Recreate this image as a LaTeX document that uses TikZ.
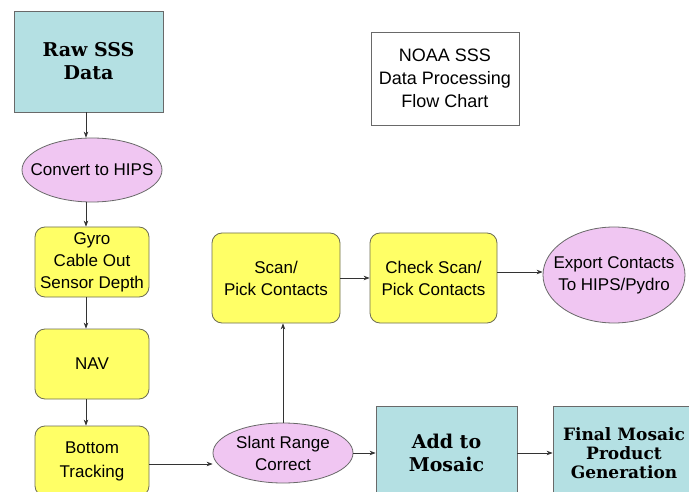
\documentclass[tikz,border=0pt]{standalone}
\usepackage{fontspec}
\setmainfont{Liberation Sans}
\newfontfamily\slabfont{DejaVu Serif}
\usetikzlibrary{shapes.geometric,arrows.meta}
\definecolor{cyanfill}{RGB}{180,224,227}
\definecolor{yelfill}{RGB}{255,255,102}
\definecolor{pinkfill}{RGB}{240,198,242}
\definecolor{edgegray}{RGB}{105,105,105}
\tikzset{
  every node/.style={align=center, inner sep=0pt, font=\fontsize{17}{22}\selectfont},
  cyanbox/.style={draw=edgegray, line width=0.8pt, fill=cyanfill, rectangle,
    font=\slabfont\bfseries\fontsize{19}{23}\selectfont},
  yelbox/.style={draw=edgegray!80!olive, line width=0.8pt, fill=yelfill, rectangle,
    rounded corners=10pt},
  pinkell/.style={draw=edgegray, line width=0.8pt, fill=pinkfill, ellipse, inner sep=-30pt},
  titlebox/.style={draw=edgegray, line width=0.8pt, fill=white, rectangle,
    font=\fontsize{18}{23}\selectfont},
  conn/.style={draw=black!80, line width=0.7pt, -{Stealth[length=6pt,width=4.5pt]}}
}
\begin{document}
\begin{tikzpicture}[x=1pt,y=-1pt]
\useasboundingbox (0,0) rectangle (689,492);
\clip (0,0) rectangle (689,492);
\fill[white] (0,0) rectangle (689,492);

\node[cyanbox, minimum width=149pt, minimum height=101pt] (raw) at (88.5,61.5) {Raw SSS\\Data};
\node[pinkell, minimum width=140pt, minimum height=64pt] (conv) at (92,170) {Convert to HIPS};
\node[yelbox, minimum width=114pt, minimum height=70pt] (gyro) at (92,262) {Gyro\\Cable Out\\Sensor Depth};
\node[yelbox, minimum width=114pt, minimum height=70pt] (nav) at (92,364) {NAV};
\node[yelbox, minimum width=114pt, minimum height=70pt] (bot) at (92,461) {Bottom\\[2pt]Tracking};
\node[pinkell, minimum width=140pt, minimum height=60pt] (slant) at (283,453) {Slant Range\\Correct};
\node[yelbox, minimum width=128pt, minimum height=90pt] (scan) at (276,278) {Scan/\\Pick Contacts};
\node[yelbox, minimum width=127pt, minimum height=90pt] (check) at (433.5,278) {Check Scan/\\Pick Contacts};
\node[pinkell, minimum width=142pt, minimum height=96pt] (export) at (614,275) {Export Contacts\\To HIPS/Pydro};
\node[cyanbox, minimum width=141pt, minimum height=94pt] (add) at (446.5,453) {Add to\\Mosaic};
\node[cyanbox, minimum width=142pt, minimum height=94pt,
  font=\slabfont\bfseries\fontsize{17}{19}\selectfont] (final) at (624,453) {Final Mosaic\\Product\\Generation};
\node[titlebox, minimum width=148pt, minimum height=93pt] (noaa) at (445,78.5) {NOAA SSS\\Data Processing\\Flow Chart};

\coordinate (checkout) at ([yshift=6pt]check.east);
\draw[conn] ([xshift=-2.5pt]raw.south) -- ([xshift=-2.5pt]raw.south |- conv.north);
\draw[conn] ([xshift=-6pt]conv.south) -- ([xshift=-6pt]gyro.north);
\draw[conn] ([xshift=-6pt]gyro.south) -- ([xshift=-6pt]nav.north);
\draw[conn] ([xshift=-6pt]nav.south) -- ([xshift=-6pt]bot.north);
\draw[conn] ([yshift=-3pt]bot.east) -- ([yshift=-3pt]bot.east -| slant.west);
\draw[conn] (slant.north) -- (slant.north |- scan.south);
\draw[conn] (scan.east) -- (check.west);
\draw[conn] (checkout) -- (checkout -| export.west);
\draw[conn] (slant.east) -- (slant.east -| add.west);
\draw[conn] (add.east) -- (final.west);
\end{tikzpicture}
\end{document}
